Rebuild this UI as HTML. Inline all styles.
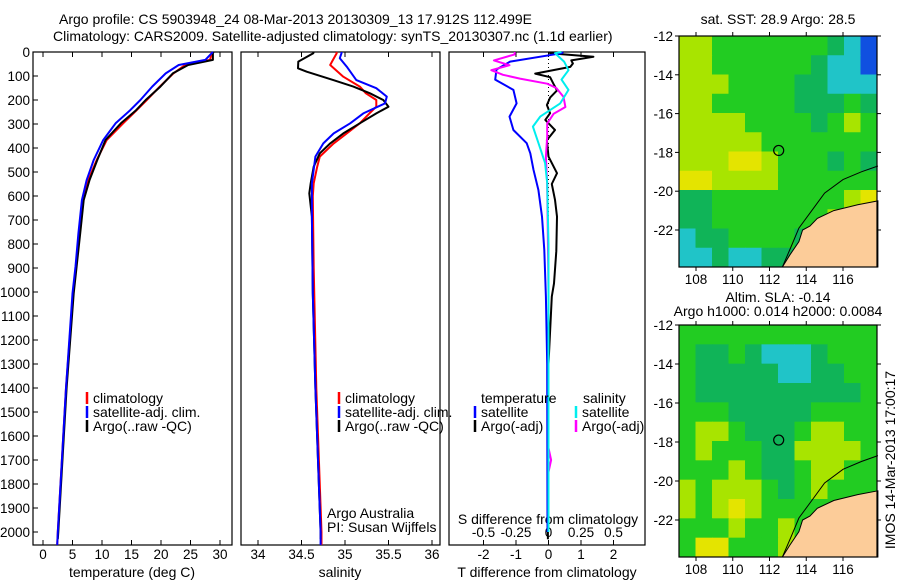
<!DOCTYPE html>
<html><head><meta charset="utf-8"><style>
html,body{margin:0;padding:0;background:#fff;}
svg{display:block;font-family:"Liberation Sans",sans-serif;font-size:14px;}
.tk{font-size:13.5px;}
</style></head><body>
<svg id="c" width="900" height="580" viewBox="0 0 900 580"></svg>
<script>
// ---- data ----
const depthTicks=[0,100,200,300,400,500,600,700,800,900,1000,1100,1200,1300,1400,1500,1600,1700,1800,1900,2000];
const tempTicks=[0,5,10,15,20,25,30];
const salTicks=[34,34.5,35,35.5,36];
const tdiffTicks=[-2,-1,0,1,2];
const sdiffTicks=[-0.5,-0.25,0,0.25,0.5];
const tempClimD=[0,5,33,54,89,144,200,242,297,367,450,533,617,756,894,1006,1400,2000,2054];
const tempClimV=[28.6,28.6,28.3,24.1,22.1,19.8,17.6,15.9,13.6,10.8,9.1,7.7,6.8,6.15,5.6,5.1,3.9,2.5,2.4];
const tempSatD=[0,5,33,54,89,144,200,242,297,367,450,533,617,756,894,1006,1400,2000,2054];
const tempSatV=[28.8,28.6,27.5,23.0,20.8,18.5,16.5,14.8,12.3,10.2,8.6,7.4,6.6,6.0,5.5,5.0,3.9,2.5,2.4];
const tempArgoD=[0,5,33,54,89,144,200,242,297,367,450,533,617,756,894,1006,1400,2000,2030];
const tempArgoV=[28.9,28.8,28.8,24.6,22.0,19.9,17.4,15.8,13.2,10.6,9.2,7.9,6.9,6.3,5.7,5.2,4.0,2.6,2.5];
const salClimD=[0,5,40,54,103,144,172,200,228,256,297,339,381,436,478,547,600,900,1400,2000,2054];
const salClimV=[34.9,34.905,34.85,34.83,34.98,35.17,35.24,35.36,35.36,35.28,35.17,35.02,34.87,34.71,34.68,34.64,34.63,34.64,34.67,34.73,34.73];
const salSatD=[0,5,26,61,117,151,186,214,256,297,339,381,436,547,686,1006,1400,2000,2054];
const salSatV=[34.96,34.96,34.94,35.02,35.13,35.36,35.48,35.46,35.21,35.06,34.87,34.75,34.66,34.62,34.62,34.63,34.66,34.72,34.72];
const salArgoD=[0,5,40,68,82,117,144,172,200,228,256,297,339,381,422,478,547,589,686,1006,1400,2000,2030];
const salArgoV=[34.64,34.636,34.463,34.46,34.56,34.866,35.095,35.287,35.44,35.5,35.36,35.17,34.98,34.83,34.71,34.64,34.606,34.59,34.62,34.63,34.66,34.72,34.72];
const tdSatD=[0,5,40,73,115,158,214,269,325,380,422,491,575,686,825,1019,1300,2000];
const tdSatV=[0.45,0.41,-1.18,-1.6,-1.64,-1.08,-0.98,-1.2,-1.08,-0.67,-0.56,-0.46,-0.31,-0.2,-0.13,-0.08,-0.04,-0.03];
const tdArgoD=[0,5,20,35,48,62,90,105,132,160,190,221,255,283,325,367,436,505,550,616,686,830,964,1019,1300,2000,2030];
const tdArgoV=[0.05,0.05,1.38,0.7,0.75,0.67,-0.41,0.05,0.15,0.26,0.05,-0.05,0.05,-0.1,0.2,-0.05,0.0,0.26,0.1,0.2,0.26,0.24,0.17,0.1,0.0,-0.02,-0.02];
const sdSatD=[0,5,40,76,115,158,214,269,311,380,463,546,800,2000];
const sdSatV=[0.1,0.05,0.12,0.154,0.1,0.154,0.09,-0.064,-0.12,-0.077,-0.026,-0.01,0.0,0.0];
const sdArgoD=[0,10,35,55,76,95,111,132,150,187,229,257,298,353,436,550,1000,1650,1700,1750,2000];
const sdArgoV=[-0.26,-0.26,-0.42,-0.3,-0.44,-0.35,-0.22,-0.01,0.06,0.115,0.13,0.04,-0.01,-0.01,-0.02,-0.01,0.0,0.0,0.02,0.0,0.0];

// ---- helpers ----
const S=document.getElementById('c');const NS='http://www.w3.org/2000/svg';
function mk(t,a,p){const e=document.createElementNS(NS,t);for(const k in a)e.setAttribute(k,a[k]);(p||S).appendChild(e);return e;}
function txt(x,y,s,anchor,name,cls){const e=mk('text',{x:x,y:y,'text-anchor':anchor||'start'});if(cls)e.setAttribute('class',cls);e.textContent=s;

return e;}
const Y0=52,KY=0.24;const yD=d=>Y0+d*KY;
const xT=v=>43+v*5.9, xS=v=>258+(v-34)*87, xTD=v=>548.5+v*32.5, xSD=v=>548.5+v*130;
function frame(x0,x1,name){const r=mk('rect',{x:x0,y:52,width:x1-x0,height:493,fill:'none',stroke:'#000','stroke-width':1.2});

}
function line(D,V,fx,col,w,name){let d='';for(let i=0;i<D.length;i++){d+=(i?'L':'M')+fx(V[i]).toFixed(1)+' '+yD(D[i]).toFixed(1);}
const p=mk('path',{d:d,fill:'none',stroke:col,'stroke-width':w,'stroke-linejoin':'round'});

}
function xticks(ticks,fx,labY,nm){ticks.forEach(t=>{const x=fx(t);mk('line',{x1:x,y1:545,x2:x,y2:540,stroke:'#000'});mk('line',{x1:x,y1:52,x2:x,y2:57,stroke:'#000'});
txt(x,labY,String(t),'middle',nm,'tk');});}

// titles
txt(59,24,'Argo profile: CS 5903948_24 08-Mar-2013 20130309_13 17.912S 112.499E','start','title-line-1');
txt(53,41,'Climatology: CARS2009. Satellite-adjusted climatology: synTS_20130307.nc (1.1d earlier)','start','title-line-2');

// panels
frame(33,232,'temperature-panel');frame(241,440,'salinity-panel');frame(449,645,'difference-panel');
depthTicks.forEach(d=>{const y=yD(d);mk('line',{x1:33,y1:y,x2:38,y2:y,stroke:'#000'});txt(30,y+5,String(d),'end','depth-tick-label','tk');});
xticks(tempTicks,xT,559,'temp-tick-label');
xticks(salTicks,xS,559,'salinity-tick-label');
xticks(tdiffTicks,xTD,559,'tdiff-tick-label');
sdiffTicks.forEach(t=>txt(xSD(t),537,String(t),'middle','sdiff-tick-label','tk'));
txt(132,577,'temperature (deg C)','middle','temperature-axis-title');
txt(340,577,'salinity','middle','salinity-axis-title');
txt(547,577,'T difference from climatology','middle','tdiff-axis-title');
txt(548,524,'S difference from climatology','middle','sdiff-axis-title');
mk('line',{x1:548.5,y1:55,x2:548.5,y2:420,stroke:'#000','stroke-dasharray':'1 3'});

// series
line(tempClimD,tempClimV,xT,'#f00',2,'temp-climatology-line');
line(tempArgoD,tempArgoV,xT,'#000',2,'temp-argo-line');
line(tempSatD,tempSatV,xT,'#00f',2,'temp-satellite-line');
line(salClimD,salClimV,xS,'#f00',2,'salinity-climatology-line');
line(salArgoD,salArgoV,xS,'#000',2,'salinity-argo-line');
line(salSatD,salSatV,xS,'#00f',2,'salinity-satellite-line');
line(tdArgoD,tdArgoV,xTD,'#000',2,'tdiff-argo-line');
line(tdSatD,tdSatV,xTD,'#00f',2,'tdiff-satellite-line');
line(sdArgoD,sdArgoV,xSD,'#f0f',2,'sdiff-argo-line');
line(sdSatD,sdSatV,xSD,'#0ee',2,'sdiff-satellite-line');

// legends
function leg(x,y,col,s,nm){mk('line',{x1:x,y1:y-11,x2:x,y2:y+1,stroke:col,'stroke-width':2.5});txt(x+6,y,s,'start',nm);}
leg(87,403,'#f00','climatology','legend-climatology');leg(87,417,'#00f','satellite-adj. clim.','legend-satellite');leg(87,431,'#000','Argo(..raw -QC)','legend-argo');
leg(339,403,'#f00','climatology','legend-sal-climatology');leg(339,417,'#00f','satellite-adj. clim.','legend-sal-satellite');leg(339,431,'#000','Argo(..raw -QC)','legend-sal-argo');
txt(481,403,'temperature','start','legend-temperature-header');txt(583,403,'salinity','start','legend-salinity-header');
leg(475,417,'#00f','satellite','legend-t-satellite');leg(475,431,'#000','Argo(-adj)','legend-t-argo');
leg(576,417,'#0ee','satellite','legend-s-satellite');leg(576,431,'#f0f','Argo(-adj)','legend-s-argo');
txt(327,518,'Argo Australia','start','credit-line-1');txt(327,532,'PI: Susan Wijffels','start','credit-line-2');

// ---- maps ----
const C={G:'#22cc22',T:'#10b458',Y:'#a8e400',O:'#e4e400',C:'#20c4c8',B:'#1050e0',D:'#0c9a70'};
const map1=['YYGGGGGGGTCB','YYGGGGGGTCCB','YYYGGGGTTCCC','YYGGGGGTTTGT','YYYYGGGGTGYG','YYYYYGGGGGGG','YYYOOYGGGTGT','OOYYYYGGGGGG','TTGGGGGGGGYO','TTGGGGGGGYOO','CTTGGGGTGGYY','CCTCCTTTGGGG'];
const map2=['GGGGGGGGGGGG','GTTGTCCCTGGG','GTTTTTCCTTGG','GTTTTTTTTTTG','GGGTTTTTGGGG','GYYGTTTGYYGG','GYGGGTTYYYYG','GGGYGTTGYYGG','YGYYYGTGYGGG','YGYOYGGGGGGG','GGGYGGYGGGGG','GOOGGGYGGGGG'];
function drawMap(top,bottom,grid,name,ky){
 const L=679,R=877,W=R-L,H=bottom-top;const lon=v=>696+(v-108)*18.375;const lat=v=>top+(-12-v)*ky;
 const g=mk('g',{});
 const cw=W/12,ch=H/12;
 grid.forEach((row,r)=>{for(let c=0;c<12;c++)mk('rect',{x:L+c*cw,y:top+r*ch,width:cw+0.5,height:ch+0.5,fill:C[row[c]]},g);});
 const land=[[112.7,-24.2],[113.1,-23.3],[113.6,-22.6],[113.8,-22.0],[114.2,-21.8],[114.6,-21.4],[115.5,-21.0],[116.8,-20.7],[117.9,-20.5],[117.9,-24.2]];
 mk('polygon',{points:land.map(p=>lon(p[0]).toFixed(1)+','+Math.min(bottom,lat(p[1])).toFixed(1)).join(' '),fill:'#fccc99',stroke:'#000','stroke-width':1},g);
 const coast=[[112.7,-24.2],[113.2,-22.8],[113.6,-21.9],[114.3,-21.0],[115.0,-20.1],[116.0,-19.4],[117.0,-19.0],[117.9,-18.7]];
 mk('polyline',{points:coast.map(p=>lon(p[0]).toFixed(1)+','+Math.min(bottom,lat(p[1])).toFixed(1)).join(' '),fill:'none',stroke:'#000','stroke-width':1},g);
 const m=mk('circle',{cx:lon(112.5),cy:lat(-17.9),r:5,fill:'none',stroke:'#000','stroke-width':1.2},g);
 
 mk('rect',{x:L,y:top,width:W,height:H,fill:'none',stroke:'#000','stroke-width':1.2},g);
 [-12,-14,-16,-18,-20,-22].forEach(v=>{const y=lat(v);mk('line',{x1:L-4,y1:y,x2:L,y2:y,stroke:'#000'});mk('line',{x1:R,y1:y,x2:R+4,y2:y,stroke:'#000'});txt(673,y+5,String(v),'end','map-lat-label','tk');});
 [108,110,112,114,116].forEach(v=>{const x=lon(v);mk('line',{x1:x,y1:top-4,x2:x,y2:top,stroke:'#000'});mk('line',{x1:x,y1:bottom,x2:x,y2:bottom+4,stroke:'#000'});txt(x,bottom+17,String(v),'middle','map-lon-label','tk');});
}
drawMap(36,267,map1,'sst-map',19.4);
txt(778,24,'sat. SST: 28.9 Argo: 28.5','middle','sst-map-title');
drawMap(325,557,map2,'sla-map',19.5);
txt(778,302,'Altim. SLA: -0.14','middle','sla-map-title-1');
txt(778,316,'Argo h1000: 0.014 h2000: 0.0084','middle','sla-map-title-2');
const v=txt(0,0,'IMOS 14-Mar-2013 17:00:17','middle','imos-timestamp');v.setAttribute('transform','translate(895,460) rotate(-90)');
</script>
</body></html>
